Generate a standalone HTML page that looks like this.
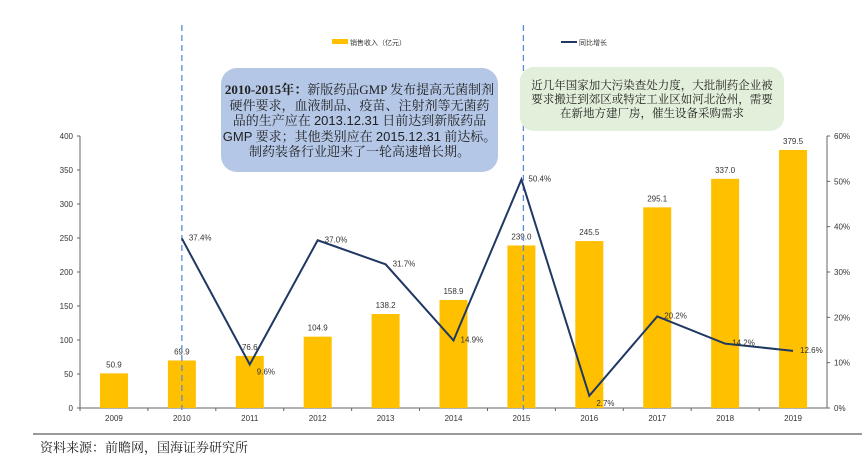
<!DOCTYPE html>
<html><head><meta charset="utf-8"><style>
html,body{margin:0;padding:0;background:#fff;width:868px;height:458px;overflow:hidden}
svg{display:block}
.t{font-family:"Liberation Sans",sans-serif;font-size:8px;fill:#333}
.box{position:absolute;font-family:"Liberation Serif","Noto Serif CJK SC",serif;color:#222;text-align:center;box-sizing:border-box;white-space:nowrap}
.ls{font-family:"Liberation Sans",sans-serif}
</style></head><body>
<div style="position:relative;width:868px;height:458px">
<svg id="chart" width="868" height="458"></svg>
<div class="box" style="left:221px;top:68px;width:277px;height:104px;background:#b4c7e7;border-radius:16px;padding-top:14px;font-size:13px;line-height:15.5px;"><b>2010-2015年：</b>新版药品GMP 发布提高无菌制剂<br>硬件要求，血液制品、疫苗、注射剂等无菌药<br>品的生产应在 <span class="ls">2013.12.31</span> 日前达到新版药品<br><span class="ls">GMP</span> 要求；其他类别应在 <span class="ls">2015.12.31</span> 前达标。<br>制药装备行业迎来了一轮高速增长期。</div>
<div class="box" style="left:520px;top:67px;width:264px;height:64px;background:#e2efda;border-radius:14px;padding-top:12px;font-size:11.5px;line-height:14px;">近几年国家加大污染查处力度，大批制药企业被<br>要求搬迁到郊区或特定工业区如河北沧州，需要<br>在新地方建厂房，催生设备采购需求</div>
<div style="position:absolute;left:40px;top:437px;font-family:'Liberation Serif','Noto Serif CJK SC',serif;font-size:13px;color:#222">资料来源：前瞻网，国海证券研究所</div>
</div>
<script>
const years=["2009","2010","2011","2012","2013","2014","2015","2016","2017","2018","2019"];
const sales=[50.9,69.9,76.6,104.9,138.2,158.9,239.0,245.5,295.1,337.0,379.5];
const salesLabels=["50.9","69.9","76.6","104.9","138.2","158.9","239.0","245.5","295.1","337.0","379.5"];
const growth=[null,37.4,9.6,37.0,31.7,14.9,50.4,2.7,20.2,14.2,12.6];
const leftTicks=[0,50,100,150,200,250,300,350,400];
const rightTicks=[0,10,20,30,40,50,60];
const NS="http://www.w3.org/2000/svg";
const svg=document.getElementById('chart');
const X0=80,X1=827,Y0=408,Y1=136;
const step=(X1-X0)/years.length;
const xc=i=>X0+step*(i+0.5);
const yL=v=>Y0-(v/400)*(Y0-Y1);
const yR=v=>Y0-(v/60)*(Y0-Y1);
function el(tag,attrs,txt){const e=document.createElementNS(NS,tag);for(const k in attrs)e.setAttribute(k,attrs[k]);if(txt!==undefined)e.textContent=txt;svg.appendChild(e);return e;}
let a=el('line',{x1:X0,y1:Y1,x2:X0,y2:Y0,stroke:'#666','stroke-width':1});


a=el('line',{x1:X1,y1:Y1,x2:X1,y2:Y0,stroke:'#666','stroke-width':1});


a=el('line',{x1:X0,y1:Y0,x2:X1,y2:Y0,stroke:'#666','stroke-width':1});


leftTicks.forEach(v=>{
  el('line',{x1:X0-3,y1:yL(v),x2:X0,y2:yL(v),stroke:'#666'});
  const t=el('text',{x:X0-7,y:yL(v)+3,'text-anchor':'end',class:'t'},String(v));
  
  
});
rightTicks.forEach(v=>{
  el('line',{x1:X1,y1:yR(v),x2:X1+3,y2:yR(v),stroke:'#666'});
  const t=el('text',{x:X1+7,y:yR(v)+3,class:'t'},v+'%');
  
  
});
years.forEach((y,i)=>{
  el('line',{x1:X0+step*i,y1:Y0,x2:X0+step*i,y2:Y0+3,stroke:'#666'});
  const t=el('text',{x:xc(i),y:Y0+13,'text-anchor':'middle',class:'t'},y);
  
  
});
sales.forEach((v,i)=>{
  const b=el('rect',{x:xc(i)-14,y:yL(v),width:28,height:Y0-yL(v),fill:'#ffc000'});
  
  
  const t=el('text',{x:xc(i),y:yL(v)-6,'text-anchor':'middle',class:'t'},salesLabels[i]);
  
  
});
[1,6].forEach(i=>{
  const d=el('line',{x1:xc(i)+(i===6?2:0),y1:25,x2:xc(i)+(i===6?2:0),y2:Y0+2,stroke:'#5b8bd6','stroke-width':1.3,'stroke-dasharray':'6,4'});
  
  
});
let pts=[];growth.forEach((v,i)=>{if(v!==null)pts.push(xc(i)+','+yR(v));});
const pl=el('polyline',{points:pts.join(' '),fill:'none',stroke:'#1f3864','stroke-width':2});


growth.forEach((v,i)=>{if(v===null)return;
  const t=el('text',{x:xc(i)+7,y:yR(v)+(i===2||i===7?10:2),class:'t'},v.toFixed(1)+'%');
  
  
});
let lg=el('rect',{x:332,y:39,width:16,height:5,fill:'#ffc000'});


lg=el('text',{x:350,y:45,class:'t'},'销售收入（亿元）');


lg.setAttribute('style','font-family:"Liberation Sans","Noto Sans CJK SC",sans-serif;font-size:7px');
lg=el('line',{x1:561,y1:42,x2:577,y2:42,stroke:'#1f3864','stroke-width':2});


lg=el('text',{x:579,y:45,class:'t'},'同比增长');


lg.setAttribute('style','font-family:"Liberation Sans","Noto Sans CJK SC",sans-serif;font-size:7px');
lg=el('line',{x1:33,y1:434,x2:862,y2:434,stroke:'#333','stroke-width':1});


</script>
</body></html>
